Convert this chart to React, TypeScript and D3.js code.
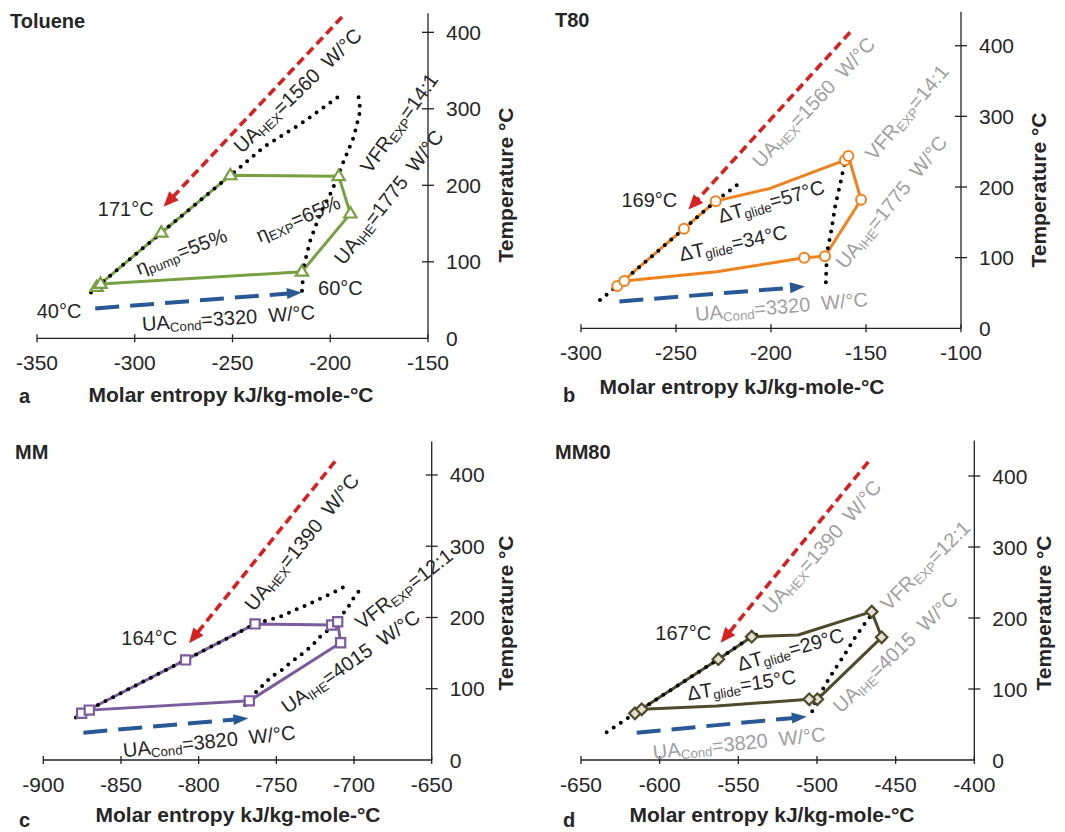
import React from 'react';
import * as d3 from 'd3';

type CPt = [number, number, number];
type Pt = [number, number];
type Lab = { t: string; s: number; T: number; rot: number; gray?: boolean };

// ---------- data ----------
const yTicks = [0, 100, 200, 300, 400];
const xTicksA = [-350, -300, -250, -200, -150];
const xTicksB = [-300, -250, -200, -150, -100];
const xTicksC = [-900, -850, -800, -750, -700, -650];
const xTicksD = [-650, -600, -550, -500, -450, -400];

// cycle points: [entropy, temperature, marker]
const tolueneCycle: CPt[] = [
  [-319.5, 67, 1], [-286.4, 138, 1], [-251.1, 213, 1], [-195.7, 212, 1],
  [-189.7, 163, 1], [-214.5, 87, 1], [-317.5, 71, 1],
];
const tolueneLiquid: Pt[] = [[-322.4, 60], [-319.5, 67], [-286.4, 138], [-251.1, 213], [-234, 250], [-215.3, 280], [-195.7, 316]];
const tolueneVapor: Pt[] = [[-185.5, 315], [-184.6, 298], [-188, 263], [-194, 226], [-199.1, 193], [-205.1, 163], [-210.2, 128], [-213.6, 93.5], [-214.5, 60]];
const tolueneHexArrow: Pt[] = [[-194, 420], [-285.2, 172]];
const tolueneCondArrow: Pt[] = [[-320.2, 39], [-214.5, 60]];

const t80Cycle: CPt[] = [
  [-280.9, 60, 1], [-245.8, 141, 1], [-229.1, 180, 1], [-200.5, 198, 0], [-161.1, 238, 1],
  [-159.3, 244, 1], [-152.6, 182, 1], [-171.6, 102, 1], [-182.5, 100, 1], [-228.6, 80, 0], [-277.2, 67, 1],
];
const t80Liquid: Pt[] = [[-290, 40], [-280.9, 60], [-245.8, 141], [-229.1, 180], [-216.3, 206]];
const t80Vapor: Pt[] = [[-160.5, 243], [-163.5, 205], [-166.3, 172], [-168.2, 139], [-170.6, 106], [-171.2, 59]];
const t80HexArrow: Pt[] = [[-158.4, 419], [-243.5, 168]];
const t80CondArrow: Pt[] = [[-279.8, 38], [-182.1, 59]];

const mmCycle: CPt[] = [
  [-875.3, 65.6, 1], [-808.4, 140.5, 1], [-763.7, 191, 1], [-714.4, 189.5, 1],
  [-710.5, 194, 1], [-708.6, 164.6, 1], [-767.4, 83, 1], [-870.4, 70, 1],
];
const mmLiquid: Pt[] = [[-879, 59.5], [-875.3, 65.6], [-808.4, 140.5], [-763.7, 191], [-747.6, 201], [-738, 210.5], [-730.5, 217.5], [-719.8, 228.3], [-712.2, 236.2], [-706.9, 242.4]];
const mmVapor: Pt[] = [[-697.2, 236.2], [-701.5, 223.6], [-704.3, 212], [-709, 201], [-715.9, 183.4], [-721.9, 173], [-727.2, 160], [-733, 149.7], [-740.1, 138], [-746.6, 126], [-753, 117], [-762.7, 96], [-767, 86.7], [-772.3, 70.3]];
const mmHexArrow: Pt[] = [[-712.2, 419], [-806.2, 164]];
const mmCondArrow: Pt[] = [[-874.2, 38.4], [-768, 58.5]];

const mm80Cycle: CPt[] = [
  [-615.7, 65.7, 1], [-562.7, 142, 1], [-541.5, 173.7, 1], [-512, 176, 0], [-465.2, 208.9, 1],
  [-458.9, 172.8, 1], [-499.8, 85.5, 1], [-504.9, 85.5, 1], [-563.8, 76, 0], [-611.4, 71.4, 1],
];
const mm80Liquid: Pt[] = [[-633.7, 39], [-615.7, 65.7], [-562.7, 142], [-541.5, 173.7], [-534, 180.5]];
const mm80Vapor: Pt[] = [[-463.1, 210.3], [-468, 197.2], [-475.8, 172.8], [-482.6, 147.9], [-489.6, 124.4], [-496, 101], [-501.3, 79.9], [-504, 62]];
const mm80HexArrow: Pt[] = [[-467.4, 420], [-561.2, 165]];
const mm80CondArrow: Pt[] = [[-614.6, 38.5], [-506.5, 61]];

// annotations (anchor in data units, rotation in degrees)
const tolueneLabels: Lab[] = [
  { t: '171°C', s: -304.6, T: 167, rot: 0 },
  { t: '40°C', s: -338.7, T: 32.6, rot: 0 },
  { t: '60°C', s: -194.8, T: 63, rot: 0 },
  { t: 'UA_{Cond}=3320  W/°C', s: -252, T: 24, rot: -4 },
  { t: '\u03b7_{pump}=55%', s: -275.8, T: 111, rot: -21 },
  { t: '\u03b7_{EXP}=65%', s: -216, T: 154, rot: -23 },
  { t: 'UA_{HEX}=1560  W/°C', s: -216, T: 322, rot: -44 },
  { t: 'VFR_{EXP}=14:1', s: -164, T: 280, rot: -54 },
  { t: 'UA_{IHE}=1775  W/°C', s: -169.3, T: 183, rot: -52 },
];
const t80Labels: Lab[] = [
  { t: '169°C', s: -264, T: 179, rot: 0 },
  { t: '\u0394T_{glide}=57°C', s: -199.6, T: 177, rot: -16 },
  { t: '\u0394T_{glide}=34°C', s: -219.8, T: 118, rot: -12 },
  { t: 'UA_{HEX}=1560  W/°C', s: -176.8, T: 318, rot: -47, gray: true },
  { t: 'VFR_{EXP}=14:1', s: -127.7, T: 304, rot: -50, gray: true },
  { t: 'UA_{IHE}=1775  W/°C', s: -135.8, T: 177, rot: -51, gray: true },
  { t: 'UA_{Cond}=3320  W/°C', s: -194.4, T: 28, rot: -5, gray: true },
];
const mmLabels: Lab[] = [
  { t: '164°C', s: -831.8, T: 168.6, rot: 0 },
  { t: 'UA_{HEX}=1390  W/°C', s: -732.6, T: 304, rot: -51 },
  { t: 'VFR_{EXP}=12:1', s: -667.2, T: 238, rot: -38 },
  { t: 'UA_{IHE}=4015  W/°C', s: -701.5, T: 136, rot: -35 },
  { t: 'UA_{Cond}=3820  W/°C', s: -793.1, T: 23.4, rot: -6 },
];
const mm80Labels: Lab[] = [
  { t: '167°C', s: -585, T: 176, rot: 0 },
  { t: '\u0394T_{glide}=29°C', s: -516.5, T: 153, rot: -16 },
  { t: '\u0394T_{glide}=15°C', s: -547.9, T: 103, rot: -9 },
  { t: 'UA_{HEX}=1390  W/°C', s: -496, T: 298, rot: -49, gray: true },
  { t: 'VFR_{EXP}=12:1', s: -430.3, T: 272, rot: -45, gray: true },
  { t: 'UA_{IHE}=4015  W/°C', s: -449.4, T: 150, rot: -44, gray: true },
  { t: 'UA_{Cond}=3820  W/°C', s: -549.4, T: 21, rot: -6, gray: true },
];

// ---------- layout ----------
const FONT = '"Liberation Sans", Arial, Helvetica, sans-serif';
const TXT = '#262626';
const GRAY = '#a0a0a0';

const panels = [
  {
    key: 'a', title: 'Toluene', letter: 'a', xDomain: [-350, -150], xRange: [37, 428], yDomain: [0, 425], yRange: [338.3, 13.2],
    xTicks: xTicksA, cycle: tolueneCycle, liquid: tolueneLiquid, vapor: tolueneVapor, hex: tolueneHexArrow, cond: tolueneCondArrow,
    labels: tolueneLabels, marker: 'triangle', color: '#77a043', fill: '#ffffff',
    titlePos: [10, 28], letterPos: [19, 403], xTitlePos: [231, 402], yTitlePos: [507, 185],
  },
  {
    key: 'b', title: 'T80', letter: 'b', xDomain: [-300, -100], xRange: [581, 961], yDomain: [0, 448], yRange: [328.3, 11.8],
    xTicks: xTicksB, cycle: t80Cycle, liquid: t80Liquid, vapor: t80Vapor, hex: t80HexArrow, cond: t80CondArrow,
    labels: t80Labels, marker: 'circle', color: '#f0821e', fill: '#ffffff',
    titlePos: [555, 27], letterPos: [563, 402], xTitlePos: [742, 394], yTitlePos: [1040, 190],
  },
  {
    key: 'c', title: 'MM', letter: 'c', xDomain: [-900, -650], xRange: [43.3, 431.7], yDomain: [0, 447], yRange: [760, 441.5],
    xTicks: xTicksC, cycle: mmCycle, liquid: mmLiquid, vapor: mmVapor, hex: mmHexArrow, cond: mmCondArrow,
    labels: mmLabels, marker: 'square', color: '#7b5c9c', fill: '#ffffff',
    titlePos: [15, 459], letterPos: [19, 827], xTitlePos: [238, 822], yTitlePos: [507, 613],
  },
  {
    key: 'd', title: 'MM80', letter: 'd', xDomain: [-650, -400], xRange: [581, 974.3], yDomain: [0, 450], yRange: [760, 440.5],
    xTicks: xTicksD, cycle: mm80Cycle, liquid: mm80Liquid, vapor: mm80Vapor, hex: mm80HexArrow, cond: mm80CondArrow,
    labels: mm80Labels, marker: 'diamond', color: '#4e4a2c', fill: '#e4e1d2',
    titlePos: [555, 459], letterPos: [563, 827], xTitlePos: [772, 822], yTitlePos: [1045, 613],
  },
];

function richText(s: string, size: number) {
  const parts = s.split(/(_\{[^}]*\})/).filter((p) => p.length > 0);
  let prevSub = false;
  return parts.map((p, i) => {
    if (p.startsWith('_{')) {
      prevSub = true;
      return (
        <tspan key={i} fontSize={size * 0.66} dy={size * 0.25}>
          {p.slice(2, -1)}
        </tspan>
      );
    }
    const dy = prevSub ? -size * 0.25 : 0;
    prevSub = false;
    return (
      <tspan key={i} dy={dy}>
        {p}
      </tspan>
    );
  });
}

function markerPath(kind: string, x: number, y: number) {
  if (kind === 'triangle') {
    const r = 6.5;
    return `M${x},${y - r}L${x + r * 0.95},${y + r * 0.6}L${x - r * 0.95},${y + r * 0.6}Z`;
  }
  if (kind === 'square') {
    const r = 4.6;
    return `M${x - r},${y - r}H${x + r}V${y + r}H${x - r}Z`;
  }
  const r = 5.8;
  return `M${x},${y - r}L${x + r},${y}L${x},${y + r}L${x - r},${y}Z`;
}

function Arrow({ p, x, y, color, width, dash, headL, headW }: any) {
  const x0 = x(p[0][0]), y0 = y(p[0][1]), x1 = x(p[1][0]), y1 = y(p[1][1]);
  const ang = Math.atan2(y1 - y0, x1 - x0);
  const bx = x1 - headL * Math.cos(ang), by = y1 - headL * Math.sin(ang);
  const nx = -Math.sin(ang) * headW / 2, ny = Math.cos(ang) * headW / 2;
  return (
    <g>
      <line x1={x0} y1={y0} x2={bx + 2 * Math.cos(ang)} y2={by + 2 * Math.sin(ang)} stroke={color} strokeWidth={width} strokeDasharray={dash} />
      <path d={`M${x1},${y1}L${bx + nx},${by + ny}L${bx - nx},${by - ny}Z`} fill={color} />
    </g>
  );
}

function Panel({ cfg }: { cfg: any }) {
  const x = d3.scaleLinear().domain(cfg.xDomain).range(cfg.xRange);
  const y = d3.scaleLinear().domain(cfg.yDomain).range(cfg.yRange);
  const line = d3.line<any>().x((d) => x(d[0])).y((d) => y(d[1]));
  const closed = d3.line<any>().x((d) => x(d[0])).y((d) => y(d[1])).curve(d3.curveLinearClosed);
  const axisX = x(cfg.xDomain[1]);
  const axisY = y(0);
  return (
    <g>
      {/* axes */}
      <line x1={x(cfg.xDomain[0])} x2={axisX} y1={axisY} y2={axisY} stroke="#222" strokeWidth={1.3} />
      <line x1={axisX} x2={axisX} y1={y(cfg.yDomain[1])} y2={axisY} stroke="#222" strokeWidth={1.3} />
      {cfg.xTicks.map((t: number) => (
        <g key={'xt' + t}>
          <line x1={x(t)} x2={x(t)} y1={axisY - 4} y2={axisY + 4} stroke="#222" strokeWidth={1.3} />
          <text x={x(t)} y={axisY + 32} textAnchor="middle" fontSize={21} fill={TXT} fontFamily={FONT}>
            {t}
          </text>
        </g>
      ))}
      {yTicks.map((t) => (
        <g key={'yt' + t}>
          {t > 0 && <line x1={axisX - 6} x2={axisX + 6} y1={y(t)} y2={y(t)} stroke="#222" strokeWidth={1.3} />}
          <text x={axisX + 18} y={y(t) + 7.5} textAnchor="start" fontSize={21} fill={TXT} fontFamily={FONT}>
            {t}
          </text>
        </g>
      ))}
      <text x={cfg.xTitlePos[0]} y={cfg.xTitlePos[1]} textAnchor="middle" fontSize={21} fontWeight="bold" fill={TXT} fontFamily={FONT}>
        Molar entropy kJ/kg-mole-°C
      </text>
      <text
        transform={`translate(${cfg.yTitlePos[0]},${cfg.yTitlePos[1]}) rotate(-90)`}
        textAnchor="middle" dominantBaseline="middle" fontSize={21} fontWeight="bold" fill={TXT} fontFamily={FONT}
      >
        Temperature °C
      </text>
      <text x={cfg.titlePos[0]} y={cfg.titlePos[1]} fontSize={20} fontWeight="bold" fill={TXT} fontFamily={FONT}>
        {cfg.title}
      </text>
      <text x={cfg.letterPos[0]} y={cfg.letterPos[1]} fontSize={20} fontWeight="bold" fill={TXT} fontFamily={FONT}>
        {cfg.letter}
      </text>

      {/* cycle */}
      <path d={closed(cfg.cycle)!} fill="none" stroke={cfg.color} strokeWidth={3} strokeLinejoin="round" />
      {/* saturation dome */}
      {[cfg.liquid, cfg.vapor].map((arr: Pt[], i: number) => (
        <path key={'dome' + i} d={line(arr)!} fill="none" stroke="#000" strokeWidth={4} strokeLinecap="round" strokeDasharray="0 8.5" />
      ))}
      {cfg.cycle.filter((p: CPt) => p[2] === 1).map((p: CPt, i: number) =>
        cfg.marker === 'circle' ? (
          <circle key={'m' + i} cx={x(p[0])} cy={y(p[1])} r={5} fill={cfg.fill} stroke={cfg.color} strokeWidth={2} />
        ) : (
          <path key={'m' + i} d={markerPath(cfg.marker, x(p[0]), y(p[1]))} fill={cfg.fill} stroke={cfg.color} strokeWidth={2.2} />
        )
      )}
      {/* arrows */}
      <Arrow p={cfg.hex} x={x} y={y} color="#d42222" width={3.6} dash="9 5" headL={15} headW={13} />
      <Arrow p={cfg.cond} x={x} y={y} color="#285896" width={4} dash="24 11" headL={15} headW={11} />
      {/* labels */}
      {cfg.labels.map((l: Lab, i: number) => (
        <text
          key={'l' + i}
          transform={`translate(${x(l.s)},${y(l.T)}) rotate(${l.rot})`}
          textAnchor="middle" dominantBaseline="middle" fontSize={20} fill={l.gray ? GRAY : TXT} fontFamily={FONT}
          style={{ whiteSpace: 'pre' }}
        >
          {richText(l.t, 20)}
        </text>
      ))}
    </g>
  );
}

export default function App() {
  return (
    <svg width={1065} height={832} viewBox="0 0 1065 832" style={{ position: 'absolute', left: 0, top: 0, background: '#fff' }}>
      <rect width={1065} height={832} fill="#fff" />
      {panels.map((p) => (
        <Panel key={p.key} cfg={p} />
      ))}
    </svg>
  );
}
